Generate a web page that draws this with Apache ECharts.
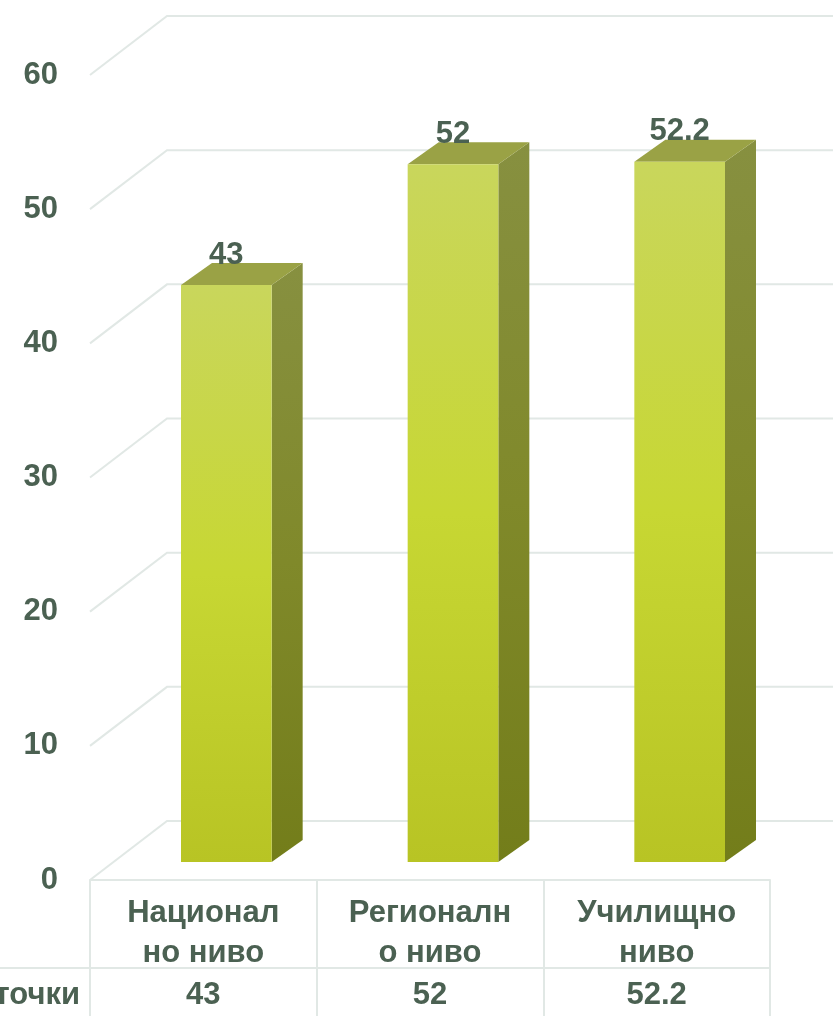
<!DOCTYPE html>
<html>
<head>
<meta charset="utf-8">
<script src="https://cdn.jsdelivr.net/npm/echarts@6/dist/echarts.min.js"></script>
<style>
html, body { margin: 0; padding: 0; background: #fff; }
#chart { width: 833px; height: 1016px; }
</style>
</head>
<body>
<div id="chart"></div>
<script>
// data
var categories = ['Национал\nно ниво', 'Регионалн\nо ниво', 'Училищно\nниво'];
var points = [43, 52, 52.2];
var pointLabels = ['43', '52', '52.2'];
var seriesName = 'точки';
var yTicks = [0, 10, 20, 30, 40, 50, 60];

var textColor = '#4b6152';
var lineColor = '#e1e8e5';
var font = '"Liberation Sans", Arial, sans-serif';
var FS = 31;

// perspective of the floor and back wall
var DEPTH_X = 77, DEPTH_Y = 59;
// bars stand a little way into the floor
var BAR_SHIFT_X = 23, BAR_SHIFT_Y = 18;
var BAR_DX = 31, BAR_DY = 22;

var chart = echarts.init(document.getElementById('chart'));

function renderWalls(params, api) {
  var cs = params.coordSys;
  var right = api.getWidth();
  var children = [];
  yTicks.forEach(function (v) {
    var y = api.coord([0, v])[1];
    children.push({
      type: 'polyline',
      shape: { points: [[cs.x, y], [cs.x + DEPTH_X, y - DEPTH_Y], [right, y - DEPTH_Y]] },
      style: { stroke: lineColor, lineWidth: 2, fill: null }
    });
  });
  // row line of the data table, running out to the legend key
  var rowY = cs.y + cs.height + 88;
  children.push({
    type: 'line',
    shape: { x1: 0, y1: rowY, x2: cs.x, y2: rowY },
    style: { stroke: lineColor, lineWidth: 2 }
  });
  return { type: 'group', children: children };
}

function renderBar(params, api) {
  var i = api.value(0);
  var base = api.coord([i, 0]);
  var top = api.coord([i, api.value(1)]);
  var w = api.size([1, 0])[0] * 0.4;
  var cx = base[0] + BAR_SHIFT_X;
  var xl = cx - w / 2, xr = cx + w / 2;
  var yb = base[1] - BAR_SHIFT_Y, yt = top[1] - BAR_SHIFT_Y;
  return {
    type: 'group',
    children: [
      {
        type: 'polygon',
        shape: { points: [[xr, yt], [xr + BAR_DX, yt - BAR_DY], [xr + BAR_DX, yb - BAR_DY], [xr, yb]] },
        style: {
          fill: new echarts.graphic.LinearGradient(0, 0, 0, 1, [
            { offset: 0, color: '#879040' },
            { offset: 0.5, color: '#80892a' },
            { offset: 1, color: '#737d1a' }
          ])
        }
      },
      {
        type: 'polygon',
        shape: { points: [[xl, yt], [xl + BAR_DX, yt - BAR_DY], [xr + BAR_DX, yt - BAR_DY], [xr, yt]] },
        style: { fill: '#9aa245' }
      },
      {
        type: 'rect',
        shape: { x: xl, y: yt, width: w, height: yb - yt },
        style: {
          fill: new echarts.graphic.LinearGradient(0, 0, 0, 1, [
            { offset: 0, color: '#c9d65c' },
            { offset: 0.5, color: '#c7d733' },
            { offset: 1, color: '#b8c424' }
          ])
        }
      },
      {
        type: 'text',
        x: cx,
        y: yt - 30,
        style: {
          text: pointLabels[i],
          fill: textColor,
          font: 'bold ' + FS + 'px ' + font,
          align: 'center',
          verticalAlign: 'middle'
        }
      }
    ]
  };
}

var option = {
  animation: false,
  backgroundColor: '#fff',
  grid: { left: 90, right: 63, top: 75, bottom: 136, outerBoundsMode: 'none' },
  xAxis: [
    {
      type: 'category',
      data: categories,
      position: 'bottom',
      axisLine: { lineStyle: { color: lineColor, width: 2 } },
      axisTick: { show: true, length: 137, lineStyle: { color: lineColor, width: 2 } },
      axisLabel: {
        interval: 0,
        margin: 13,
        color: textColor,
        fontSize: FS,
        fontWeight: 'bold',
        fontFamily: font,
        lineHeight: 40
      }
    },
    {
      type: 'category',
      data: pointLabels,
      position: 'bottom',
      offset: 88,
      axisLine: { lineStyle: { color: lineColor, width: 2 } },
      axisTick: { show: false },
      axisLabel: {
        interval: 0,
        margin: 12,
        color: textColor,
        fontSize: FS,
        fontWeight: 'bold',
        fontFamily: font,
        lineHeight: 30
      },
      name: seriesName,
      nameLocation: 'start',
      nameGap: 10,
      nameTextStyle: {
        color: textColor,
        fontSize: FS,
        fontWeight: 'bold',
        fontFamily: font,
        align: 'right',
        verticalAlign: 'top',
        lineHeight: 54
      }
    }
  ],
  yAxis: {
    type: 'value',
    min: 0,
    max: 60,
    interval: 10,
    axisLine: { show: false },
    axisTick: { show: false },
    splitLine: { show: false },
    axisLabel: {
      margin: 32,
      color: textColor,
      fontSize: FS,
      fontWeight: 'bold',
      fontFamily: font
    }
  },
  series: [
    {
      type: 'custom',
      name: 'walls',
      xAxisIndex: 0,
      renderItem: renderWalls,
      data: [[0, 0]],
      silent: true,
      z: 1
    },
    {
      type: 'custom',
      name: seriesName,
      xAxisIndex: 0,
      renderItem: renderBar,
      encode: { x: 0, y: 1 },
      data: points.map(function (v, i) { return [i, v]; }),
      z: 2
    }
  ]
};

chart.setOption(option);
</script>
</body>
</html>
